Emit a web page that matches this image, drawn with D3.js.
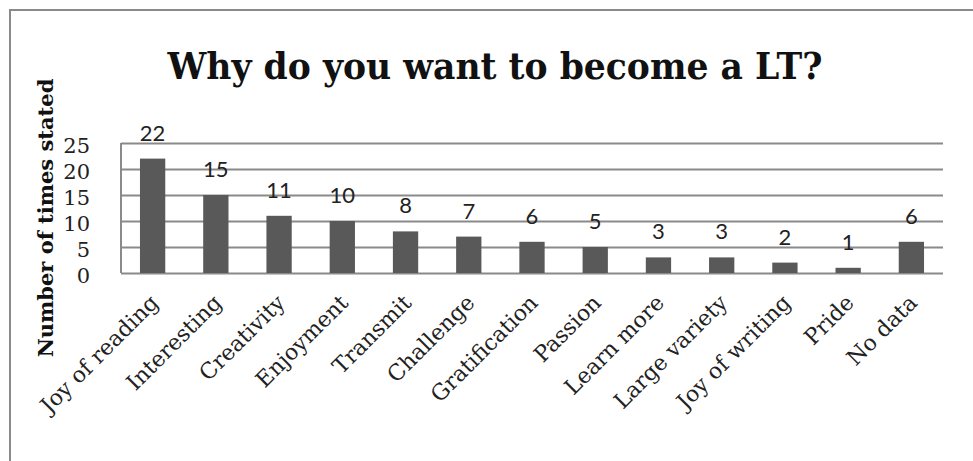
<!DOCTYPE html>
<html>
<head>
<meta charset="utf-8">
<script src="https://cdn.jsdelivr.net/npm/d3@7/dist/d3.min.js"></script>
<style>
	body { margin: 0; background: #fff; }
	svg { display: block; }
	.grid line { stroke: #8a8a8a; stroke-width: 2; }
	.grid path { display: none; }
	.y.axis path, .y.axis line, .x.axis path, .x.axis line { display: none; }
	.y.axis text { font-family: 'DejaVu Serif', serif; font-size: 21px; fill: #222; }
	.x.axis text { font-family: 'DejaVu Serif', serif; font-size: 22px; fill: #222; }
	.value text { font-family: Lato, 'Open Sans', sans-serif; font-size: 22px; fill: #222; }
</style>
</head>
<body>
<div id="chart"></div>
<script>
// Global vars
var CATEGORIES = ['Joy of reading', 'Interesting', 'Creativity', 'Enjoyment', 'Transmit', 'Challenge',
	'Gratification', 'Passion', 'Learn more', 'Large variety', 'Joy of writing', 'Pride', 'No data'];
var VALUES = [22, 15, 11, 10, 8, 7, 6, 5, 3, 3, 2, 1, 6];
var Y_TICKS = [0, 5, 10, 15, 20, 25];
var TITLE = 'Why do you want to become a LT?';
var Y_TITLE = 'Number of times stated';

var width = 973;
var height = 461;

var margins = {
	top: 143,
	right: 30,
	bottom: 188,
	left: 121
};

var chartWidth = width - margins['left'] - margins['right'];
var chartHeight = height - margins['top'] - margins['bottom'];

var svg = d3.select('#chart')
	.append('svg')
	.attr('width', width)
	.attr('height', height);

// outer frame (right and bottom edges run off the page)
svg.append('rect')
	.attr('x', 10)
	.attr('y', 10)
	.attr('width', 1000)
	.attr('height', 500)
	.attr('fill', 'none')
	.attr('stroke', '#8a8a8a')
	.attr('stroke-width', 2);

svg.append('text')
	.attr('x', 495)
	.attr('y', 79)
	.attr('text-anchor', 'middle')
	.attr('textLength', 655)
	.attr('lengthAdjust', 'spacingAndGlyphs')
	.style('font-family', "'DejaVu Serif', serif")
	.style('font-weight', 'bold')
	.style('font-size', '37px')
	.style('fill', '#111')
	.text(TITLE);

var chartElement = svg.append('g')
	.attr('transform', 'translate(' + margins['left'] + ',' + margins['top'] + ')');

var xScale = d3.scaleBand()
	.domain(CATEGORIES)
	.range([0, chartWidth])
	.paddingInner(0.6)
	.paddingOuter(0.3);

var yScale = d3.scaleLinear()
	.domain([0, 25])
	.range([chartHeight, 0]);

// grid
chartElement.append('g')
	.attr('class', 'grid')
	.call(d3.axisLeft(yScale)
		.tickValues(Y_TICKS)
		.tickSize(-chartWidth)
		.tickFormat(''));

// left border of plot
chartElement.append('line')
	.attr('x1', 0)
	.attr('x2', 0)
	.attr('y1', yScale(25))
	.attr('y2', yScale(0))
	.attr('stroke', '#8a8a8a')
	.attr('stroke-width', 2);

// bars
chartElement.append('g')
	.selectAll('rect')
	.data(VALUES)
	.enter()
	.append('rect')
	.attr('x', function(d, i) { return xScale(CATEGORIES[i]); })
	.attr('y', function(d) { return yScale(d); })
	.attr('width', xScale.bandwidth())
	.attr('height', function(d) { return yScale(0) - yScale(d); })
	.attr('fill', '#595959');

// value labels
chartElement.append('g')
	.attr('class', 'value')
	.selectAll('text')
	.data(VALUES)
	.enter()
	.append('text')
	.attr('x', function(d, i) { return xScale(CATEGORIES[i]) + xScale.bandwidth() / 2; })
	.attr('y', function(d) { return yScale(d) - 18; })
	.attr('text-anchor', 'middle')
	.text(function(d) { return d; });

// y axis
chartElement.append('g')
	.attr('class', 'y axis')
	.attr('transform', 'translate(-28,0)')
	.call(d3.axisLeft(yScale).tickValues(Y_TICKS).tickSize(0))
	.selectAll('text')
	.attr('dy', '0.45em');

// x axis
chartElement.append('g')
	.attr('class', 'x axis')
	.attr('transform', 'translate(0,' + chartHeight + ')')
	.call(d3.axisBottom(xScale).tickSize(0))
	.selectAll('text')
	.attr('text-anchor', 'end')
	.attr('dy', '0')
	.attr('transform', 'translate(5,29) rotate(-45)');

svg.append('text')
	.attr('transform', 'translate(53,218) rotate(-90)')
	.attr('text-anchor', 'middle')
	.style('font-family', "'DejaVu Serif', serif")
	.style('font-weight', 'bold')
	.style('font-size', '21px')
	.style('fill', '#111')
	.text(Y_TITLE);
</script>
</body>
</html>
